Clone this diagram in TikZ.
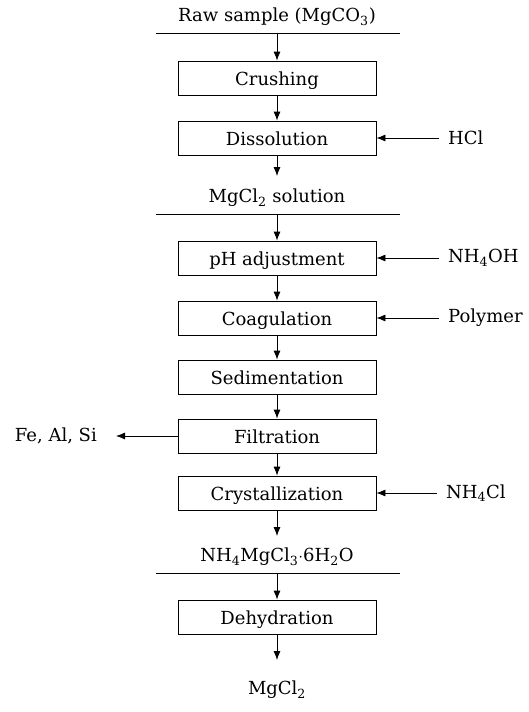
\documentclass[tikz,border=0pt]{standalone}
\usepackage{fontspec}
\setmainfont{DejaVu Serif}
\usetikzlibrary{arrows.meta}

\begin{document}
\begin{tikzpicture}[
x=1pt, y=-1pt,
every node/.style={font=\fontsize{18}{21}\selectfont},
proc/.style={rectangle, draw, line width=0.8pt, minimum width=198pt, minimum height=34pt, inner sep=0pt, text height=16pt, text depth=2pt},
stage/.style={inner sep=0pt},
feed/.style={anchor=west, inner sep=0pt},
waste/.style={anchor=east, inner sep=0pt},
flow/.style={line width=0.8pt, -{Latex[length=9pt,width=7pt]}},
cut/.style={line width=0.8pt},
]
\useasboundingbox (0,0) rectangle (528,712);

% Raw material
\node[stage] (raw) at (277,17) {Raw sample (MgCO\textsubscript{3})};
\coordinate (cut1w) at (156,33);
\coordinate (cut1e) at (400,33);
\coordinate (cut1) at (277,33);
\draw[cut] (cut1w) -- (cut1e);

% Dissolution stage
\node[proc] (crush) at (277,78) {Crushing};
\node[proc] (diss) at (277,138) {Dissolution};
\node[feed] (hcl) at (448,138) {HCl};
\coordinate (dissout) at (277,176);
\node[stage] (sol) at (277,198) {MgCl\textsubscript{2} solution};
\coordinate (cut2w) at (156,214);
\coordinate (cut2e) at (400,214);
\coordinate (cut2) at (277,214);
\draw[cut] (cut2w) -- (cut2e);

\draw[flow] (cut1) -- (crush);
\draw[flow] (crush) -- (diss);
\draw[flow] ([xshift=-9pt]hcl.west) -- (diss.east);
\draw[flow] (diss) -- (dissout);

% Purification stage
\node[proc] (ph) at (277,258) {pH adjustment};
\node[proc] (coag) at (277,318) {Coagulation};
\node[proc] (sed) at (277,377) {Sedimentation};
\node[proc] (filt) at (277,436) {Filtration};
\node[proc] (cryst) at (277,493) {Crystallization};
\node[feed] (nhoh) at (448,258) {NH\textsubscript{4}OH};
\node[feed] (poly) at (448,318) {Polymer};
\node[feed] (nhcl) at (446,493) {NH\textsubscript{4}Cl};
\node[waste] (fe) at (97,436) {Fe, Al, Si};
\coordinate (crystout) at (277,536);
\node[stage] (salt) at (277,557) {NH\textsubscript{4}MgCl\textsubscript{3}$\cdot$6H\textsubscript{2}O};
\coordinate (cut3w) at (156,573);
\coordinate (cut3e) at (400,573);
\coordinate (cut3) at (277,573);
\draw[cut] (cut3w) -- (cut3e);

\draw[flow] (cut2) -- (ph);
\draw[flow] (ph) -- (coag);
\draw[flow] (coag) -- (sed);
\draw[flow] (sed) -- (filt);
\draw[flow] (filt) -- (cryst);
\draw[flow] ([xshift=-9pt]nhoh.west) -- (ph.east);
\draw[flow] ([xshift=-9pt]poly.west) -- (coag.east);
\draw[flow] ([xshift=-9pt]nhcl.west) -- (cryst.east);
\draw[flow] (filt.west) -- ([xshift=19pt]fe.east);
\draw[flow] (cryst) -- (crystout);

% Dehydration stage
\node[proc] (dehyd) at (277,617) {Dehydration};
\coordinate (dehydout) at (277,660);
\node[stage] (prod) at (277,690) {MgCl\textsubscript{2}};

\draw[flow] (cut3) -- (dehyd);
\draw[flow] (dehyd) -- (dehydout);

\end{tikzpicture}
\end{document}
